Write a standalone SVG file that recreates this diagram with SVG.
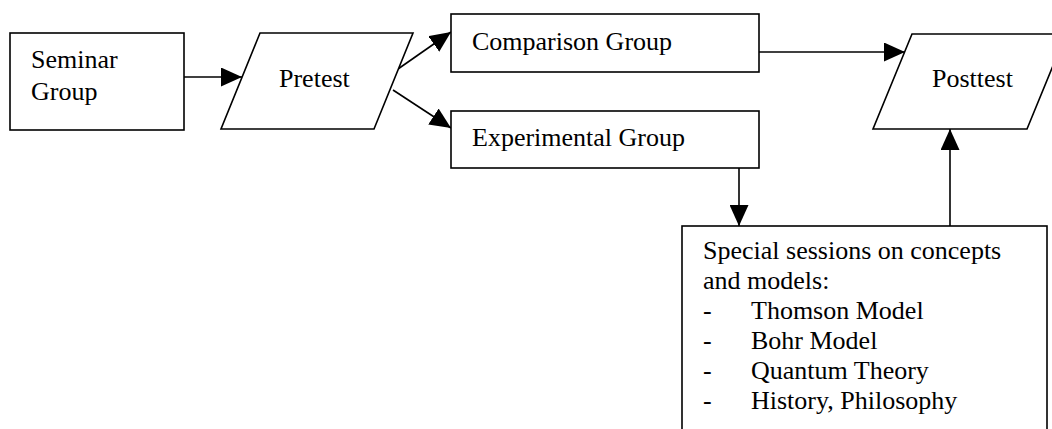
<svg xmlns="http://www.w3.org/2000/svg" width="1052" height="429" viewBox="0 0 1052 429">
<defs>
<marker id="ah" markerWidth="21" markerHeight="19" refX="21" refY="9.5" orient="auto" markerUnits="userSpaceOnUse">
<path d="M0,0 L21,9.5 L0,19 Z" fill="#000"/>
</marker>
<style>
.shape{fill:#fff;stroke:#000;stroke-width:1.6}
.conn{fill:none;stroke:#000;stroke-width:1.6;marker-end:url(#ah)}
text{font-family:"Liberation Serif","Times New Roman",serif;font-size:26px;fill:#000}
</style>
</defs>
<rect width="1052" height="429" fill="#fff"/>
<g id="connectors">
<line class="conn" x1="184" y1="77" x2="242" y2="77"/>
<line class="conn" x1="398" y1="69" x2="451" y2="32"/>
<line class="conn" x1="393" y1="90" x2="451" y2="128"/>
<line class="conn" x1="759" y1="52" x2="905" y2="52"/>
<line class="conn" x1="739" y1="168" x2="739" y2="226"/>
<line class="conn" x1="950" y1="226" x2="950" y2="129"/>
</g>
<g id="seminar">
<rect class="shape" x="10" y="33" width="174" height="97"/>
<text x="31" y="68">Seminar</text>
<text x="31" y="100">Group</text>
</g>
<g id="pretest">
<polygon class="shape" points="260,33 413,33 374,129 221,129"/>
<text x="279" y="87">Pretest</text>
</g>
<g id="comparison">
<rect class="shape" x="451" y="14" width="308" height="58"/>
<text x="472" y="50">Comparison Group</text>
</g>
<g id="experimental">
<rect class="shape" x="451" y="111" width="308" height="57"/>
<text x="472" y="146">Experimental Group</text>
</g>
<g id="posttest">
<polygon class="shape" points="912,34 1066,34 1027,129 873,129"/>
<text x="932" y="87">Posttest</text>
</g>
<g id="sessions">
<rect class="shape" x="682" y="226" width="365" height="220"/>
<text x="703" y="259">Special sessions on concepts</text>
<text x="703" y="289">and models:</text>
<text x="703" y="319">-</text><text x="751" y="319">Thomson Model</text>
<text x="703" y="349">-</text><text x="751" y="349">Bohr Model</text>
<text x="703" y="379">-</text><text x="751" y="379">Quantum Theory</text>
<text x="703" y="409">-</text><text x="751" y="409">History, Philosophy</text>
</g>
</svg>
